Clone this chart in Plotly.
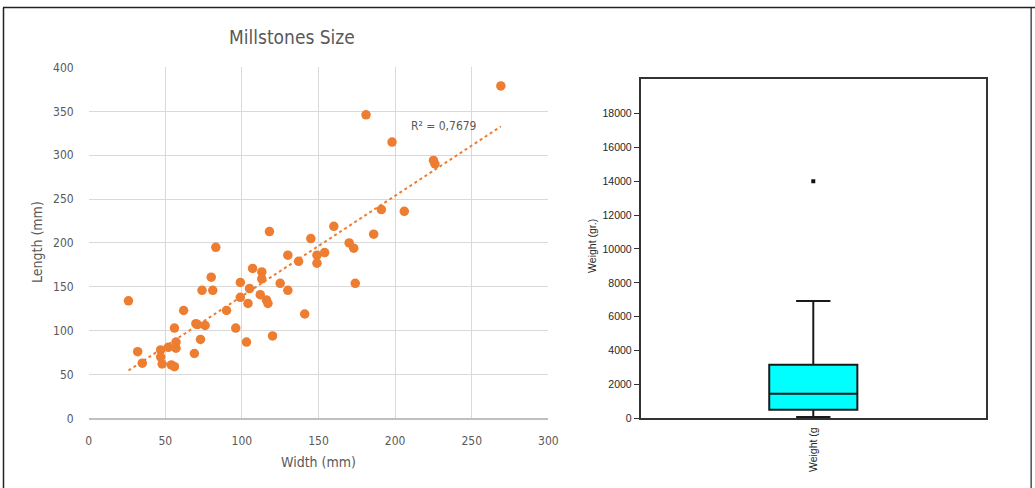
import numpy as np
import plotly.graph_objects as go

# Millstone dimensions (mm)
width_mm = [26, 32, 35, 47, 47, 48, 52, 54, 56, 57, 57, 56, 62, 69, 70, 71, 76, 73,
            74, 80, 81, 83, 90, 96, 99, 99, 103, 105, 104, 107, 112, 113, 113, 116,
            117, 118, 120, 125, 130, 130, 137, 141, 145, 149, 149, 154, 160, 170,
            173, 174, 186, 181, 198, 225, 226, 191, 206, 269]
length_mm = [134, 76, 63, 78, 70, 62, 81, 61, 59, 87, 80, 103, 123, 74, 108, 107, 106, 90,
             146, 161, 146, 195, 123, 103, 155, 138, 87, 148, 131, 171, 141, 167, 159, 135,
             131, 213, 94, 154, 186, 146, 179, 119, 205, 186, 177, 189, 219, 200,
             194, 154, 210, 346, 315, 294, 290, 238, 236, 379]
r2_label = "R² = 0,7679"

# Weight box-plot summary (gr.)
weight_q1 = 514
weight_median = 1459
weight_q3 = 3172
weight_low = 77
weight_high = 6929
weight_outliers = [14000]
weight_label = "Weight (g"

x_ticks = [0, 50, 100, 150, 200, 250, 300]
y_ticks = [0, 50, 100, 150, 200, 250, 300, 350, 400]
w_ticks = list(range(0, 18001, 2000))

# layout is planned in page pixels; these convert them to figure fractions
OX, OY, SX, SY = 3.5, 6.5, 0.986, 0.972
W, H = 1046, 496
ORANGE = "#ED7D31"
GREY_TXT = "#595959"
DARK_TXT = "#262626"
NARROW = "Liberation Sans Narrow, DejaVu Sans Condensed, Arial Narrow, sans-serif"
ARIAL = "Liberation Sans, Arial, sans-serif"


def px_x(p):
    return (p - OX) / SX / W


def px_y(p):
    return 1 - (p - OY) / SY / H


def label(text, x, y, size, family, color, angle=0):
    return dict(text=text, x=px_x(x), y=px_y(y), xref="paper", yref="paper",
                xanchor="center", yanchor="middle", textangle=angle,
                showarrow=False, font=dict(family=family, size=size, color=color))


# linear trendline over the observed width range
slope, intercept = np.polyfit(width_mm, length_mm, 1)
trend_x = np.array([min(width_mm), max(width_mm)])
trend_y = slope * trend_x + intercept

fig = go.Figure()

fig.add_trace(go.Scatter(
    x=trend_x, y=trend_y, mode="lines",
    line=dict(color=ORANGE, width=2, dash="dot"),
    xaxis="x", yaxis="y", showlegend=False, hoverinfo="skip",
))
fig.add_trace(go.Scatter(
    x=width_mm, y=length_mm, mode="markers",
    marker=dict(color=ORANGE, size=9.5, line=dict(width=0)),
    xaxis="x", yaxis="y", showlegend=False,
))

fig.add_trace(go.Box(
    x=[0], q1=[weight_q1], median=[weight_median], q3=[weight_q3],
    lowerfence=[weight_low], upperfence=[weight_high],
    boxpoints=False, fillcolor="#00FFFF",
    line=dict(color="#1a1a1a", width=2),
    width=0.255, whiskerwidth=0.39,
    xaxis="x2", yaxis="y2", showlegend=False,
))
fig.add_trace(go.Scatter(
    x=[0] * len(weight_outliers), y=weight_outliers, mode="markers",
    marker=dict(symbol="square", size=4, color="#111111"),
    xaxis="x2", yaxis="y2", showlegend=False,
))

fig.update_layout(
    width=W, height=H,
    margin=dict(l=0, r=0, t=0, b=0),
    paper_bgcolor="white", plot_bgcolor="white",
    xaxis=dict(
        domain=[px_x(89), px_x(548)], range=[0, 300],
        tickvals=x_ticks, showgrid=True, gridcolor="#d9d9d9", gridwidth=1.3,
        zeroline=False, showline=True, linecolor="#bfbfbf", linewidth=2,
        tickfont=dict(family=NARROW, size=12, color=GREY_TXT),
        ticks="", ticklabelstandoff=10, anchor="y",
    ),
    yaxis=dict(
        domain=[px_y(418), px_y(67)], range=[0, 400],
        tickvals=y_ticks, showgrid=True, gridcolor="#d9d9d9", gridwidth=1.3,
        zeroline=False, showline=False,
        tickfont=dict(family=NARROW, size=12, color=GREY_TXT),
        ticks="", ticklabelstandoff=14, anchor="x",
    ),
    xaxis2=dict(
        domain=[px_x(640), px_x(985)], range=[-0.5, 0.5],
        tickvals=[0], ticktext=[weight_label], tickangle=-90,
        showgrid=False, zeroline=False,
        showline=True, mirror=True, linecolor="#333333", linewidth=1.5,
        tickfont=dict(family=ARIAL, size=10.5, color=DARK_TXT),
        ticks="", ticklabelstandoff=3, anchor="y2",
    ),
    yaxis2=dict(
        domain=[px_y(418), px_y(79)], range=[0, 20000],
        tickvals=w_ticks, ticktext=[str(v) for v in w_ticks],
        showgrid=False, zeroline=False,
        showline=True, mirror=True, linecolor="#333333", linewidth=1.5,
        ticks="outside", ticklen=5, tickcolor="#333333", tickwidth=1.2,
        tickfont=dict(family=ARIAL, size=10.5, color=DARK_TXT),
        anchor="x2",
    ),
    annotations=[
        label("Millstones Size", 292, 37, 19, NARROW, GREY_TXT),
        label("Width (mm)", 318, 462, 14, NARROW, GREY_TXT),
        label("Length (mm)", 38, 242, 14, NARROW, GREY_TXT, angle=-90),
        dict(text=r2_label, x=232, y=333, xref="x", yref="y", showarrow=False,
             xanchor="center", yanchor="middle",
             font=dict(family=NARROW, size=12, color=GREY_TXT)),
        label("Weight (gr.)", 592, 245, 10.5, ARIAL, DARK_TXT, angle=-90),
    ],
    shapes=[
        # page frame: top edge and both sides
        dict(type="line", xref="paper", yref="paper",
             x0=0, x1=1, y0=px_y(7), y1=px_y(7), line=dict(color="#222222", width=1.5)),
        dict(type="line", xref="paper", yref="paper",
             x0=px_x(4), x1=px_x(4), y0=0, y1=px_y(7), line=dict(color="#222222", width=1.5)),
        dict(type="line", xref="paper", yref="paper",
             x0=px_x(1030), x1=px_x(1030), y0=0, y1=px_y(7), line=dict(color="#222222", width=1.2)),
    ],
)

fig.write_html("out.html")
